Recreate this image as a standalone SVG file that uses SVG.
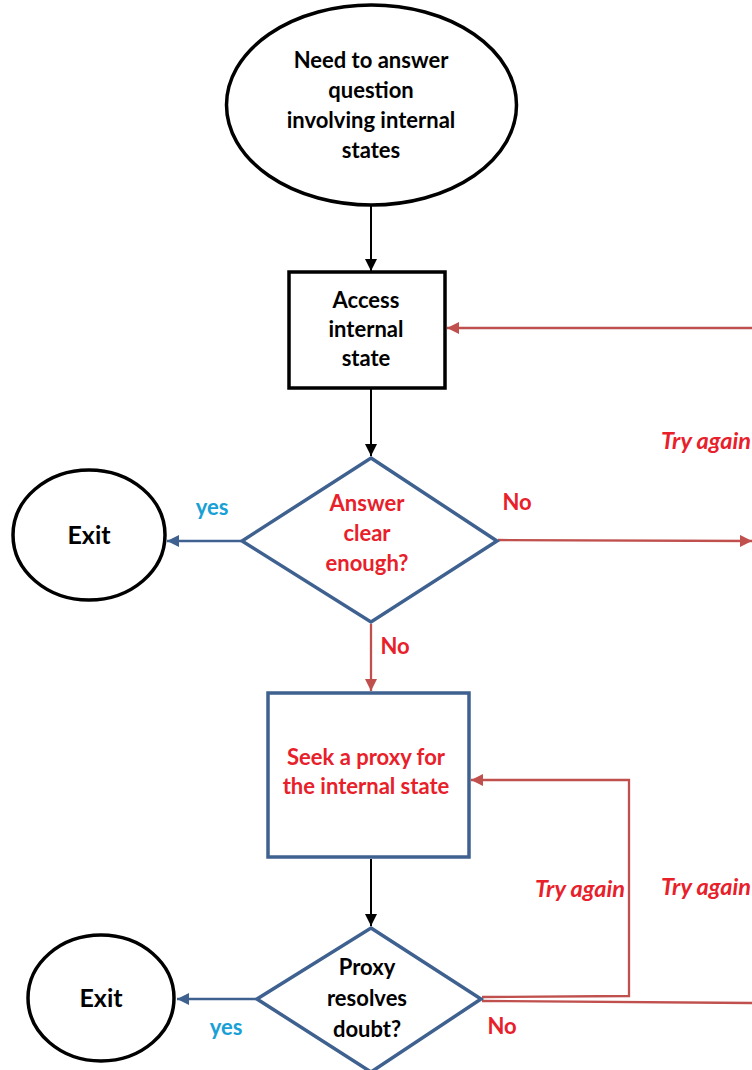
<svg xmlns="http://www.w3.org/2000/svg" width="752" height="1070" viewBox="0 0 752 1070">
<style>
.t{font-family:Lato,"Open Sans","Liberation Sans",sans-serif;font-weight:bold;font-size:22px;text-anchor:middle}
.x{font-size:25px}
.k{fill:#000}
.r{fill:#e8202a}
.b{fill:#19a0d6}
.i{font-style:italic;font-size:23.5px}
.sk{fill:#fff;stroke:#000;stroke-width:3.5}
.sb{fill:#fff;stroke:#3f6190;stroke-width:3.5}
.lk{stroke:#000;stroke-width:2;fill:none}
.lr{stroke:#c0504d;stroke-width:2.3;fill:none}
.lb{stroke:#3f6190;stroke-width:2.5;fill:none}
</style>
<defs>
<marker id="ar" viewBox="0 0 10 10" refX="10" refY="5" markerWidth="12" markerHeight="12" orient="auto" markerUnits="userSpaceOnUse"><path d="M0,0L10,5L0,10z" fill="#c0504d"/></marker>
<marker id="ab" viewBox="0 0 10 10" refX="10" refY="5" markerWidth="12" markerHeight="12" orient="auto" markerUnits="userSpaceOnUse"><path d="M0,0L10,5L0,10z" fill="#3f6190"/></marker>
<marker id="ak2" viewBox="0 0 10 10" refX="10" refY="5" markerWidth="12" markerHeight="12" orient="auto" markerUnits="userSpaceOnUse"><path d="M0,0L10,5L0,10z" fill="#000"/></marker>
</defs>
<g id="connectors">
<line class="lk" x1="371" y1="206" x2="371" y2="271" marker-end="url(#ak2)"/>
<line class="lk" x1="371" y1="389" x2="371" y2="456" marker-end="url(#ak2)"/>
<line class="lr" x1="752" y1="328" x2="447" y2="328" marker-end="url(#ar)"/>
<line class="lr" x1="498" y1="540" x2="752" y2="541" marker-end="url(#ar)"/>
<line class="lb" x1="241" y1="541" x2="167" y2="541" marker-end="url(#ab)"/>
<line class="lr" x1="371" y1="624" x2="371" y2="691" marker-end="url(#ar)"/>
<line class="lk" x1="371" y1="859" x2="371" y2="926" marker-end="url(#ak2)"/>
<polyline class="lr" points="482,997 629,996 629,780 471,780" marker-end="url(#ar)"/>
<polyline class="lr" points="482,1001 752,1003"/>
<line class="lb" x1="256" y1="999" x2="177" y2="999" marker-end="url(#ab)"/>
</g>
<g id="start">
<ellipse class="sk" cx="371.5" cy="105" rx="145" ry="100"/>
<text class="t k" x="371" y="68">Need to answer</text>
<text class="t k" x="371" y="98">question</text>
<text class="t k" x="371" y="128">involving internal</text>
<text class="t k" x="371" y="158">states</text>
</g>
<g id="access">
<rect class="sk" x="289" y="272" width="156" height="116"/>
<text class="t k" x="366" y="308">Access</text>
<text class="t k" x="366" y="337">internal</text>
<text class="t k" x="366" y="366">state</text>
</g>
<g id="decision1">
<polygon class="sb" points="371,458 497,541 371,622 242,541"/>
<text class="t r" x="367" y="511">Answer</text>
<text class="t r" x="367" y="541">clear</text>
<text class="t r" x="367" y="571">enough?</text>
</g>
<g id="exit1">
<ellipse class="sk" cx="89" cy="535" rx="76" ry="65"/>
<text class="t k x" x="89" y="544">Exit</text>
</g>
<g id="seek">
<rect class="sb" x="268" y="693" width="201" height="164"/>
<text class="t r" x="366" y="765">Seek a proxy for</text>
<text class="t r" x="366" y="794">the internal state</text>
</g>
<g id="decision2">
<polygon class="sb" points="371,928 481,999 371,1072 257,999"/>
<text class="t k" x="367" y="975">Proxy</text>
<text class="t k" x="367" y="1006">resolves</text>
<text class="t k" x="367" y="1037">doubt?</text>
</g>
<g id="exit2">
<ellipse class="sk" cx="101" cy="998" rx="73" ry="63"/>
<text class="t k x" x="101" y="1007">Exit</text>
</g>
<g id="labels">
<text class="t b" x="212" y="515">yes</text>
<text class="t r" x="517" y="510">No</text>
<text class="t r" x="395" y="654">No</text>
<text class="t b" x="226" y="1035">yes</text>
<text class="t r" x="502" y="1034">No</text>
<text class="t r i" x="661" y="449" style="text-anchor:start">Try again</text>
<text class="t r i" x="580" y="897">Try again</text>
<text class="t r i" x="661" y="895" style="text-anchor:start">Try again</text>
</g>
</svg>
